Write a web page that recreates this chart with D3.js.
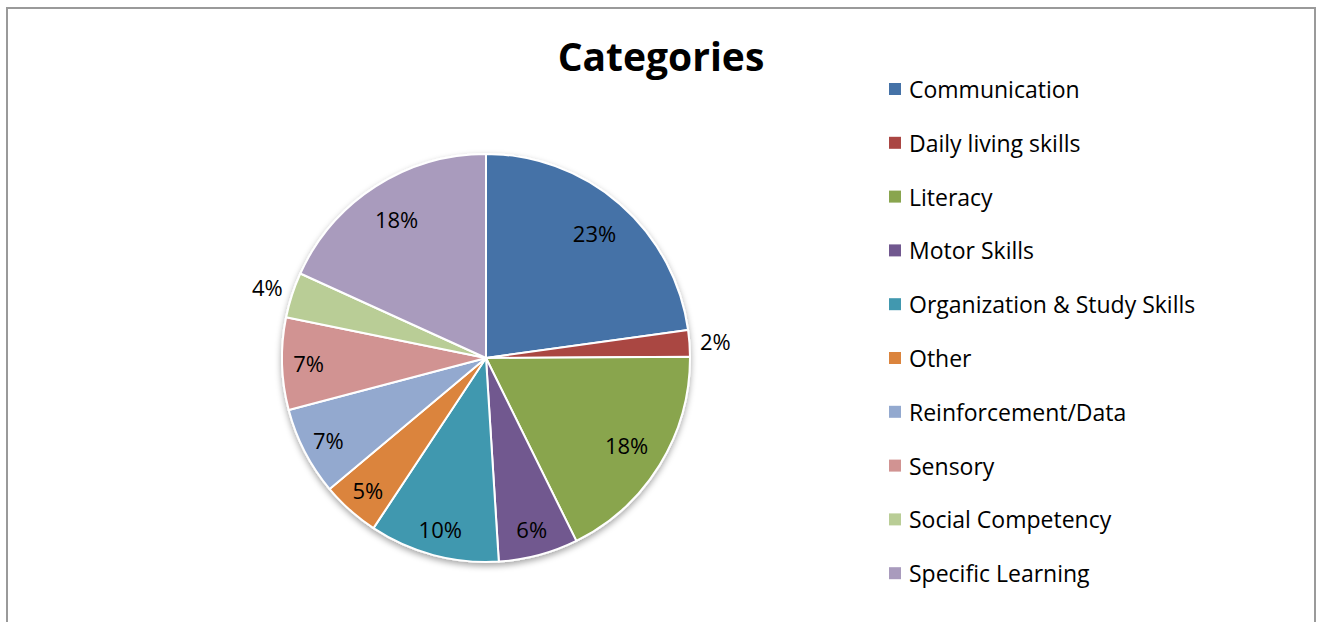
<!DOCTYPE html>
<html>
<head>
<meta charset="utf-8">
<script src="https://cdn.jsdelivr.net/npm/d3@7"></script>
<style>
  html, body { margin: 0; padding: 0; background: #fff; }
  svg { display: block; }
</style>
</head>
<body>
<svg id="chart" width="1318" height="622"></svg>
<script>
// ---- Data ----
const title = "Categories";
const categories = [
  "Communication", "Daily living skills", "Literacy", "Motor Skills",
  "Organization & Study Skills", "Other", "Reinforcement/Data", "Sensory",
  "Social Competency", "Specific Learning"
];
const values = [22.8, 2.1, 17.8, 6.3, 10.3, 4.6, 7.0, 7.3, 3.6, 18.2];
const colors = [
  "#4572A7", "#AA4643", "#89A54E", "#71588F", "#4198AF",
  "#DB843D", "#93A9CF", "#D19392", "#B9CD96", "#A99BBD"
];

// ---- Layout ----
const cx = 486, cy = 358, R = 204;
const FONT = "'Open Sans', 'Noto Sans', sans-serif";

const svg = d3.select("#chart");

// frame
svg.append("rect")
  .attr("x", 7).attr("y", 8).attr("width", 1308).attr("height", 640)
  .attr("fill", "#fff").attr("stroke", "#9a9a9a").attr("stroke-width", 2);

// shadow filter
const defs = svg.append("defs");
const f = defs.append("filter").attr("id", "shadow")
  .attr("x", "-20%").attr("y", "-20%").attr("width", "140%").attr("height", "140%");
f.append("feDropShadow").attr("dx", 0).attr("dy", 3).attr("stdDeviation", 3)
  .attr("flood-color", "#000").attr("flood-opacity", 0.35);

// title
svg.append("text")
  .attr("x", 661).attr("y", 71)
  .attr("text-anchor", "middle")
  .style("font-family", FONT).style("font-weight", "bold").style("font-size", "39px")
  .attr("fill", "#000")
  .text(title);

// pie
const data = categories.map((c, i) => ({ name: c, value: values[i], color: colors[i] }));
const total = d3.sum(values);
const pie = d3.pie().value(d => d.value).sort(null);
const arcs = pie(data);
const arc = d3.arc().innerRadius(0).outerRadius(R);

const g = svg.append("g").attr("transform", `translate(${cx},${cy})`);
g.append("g").attr("filter", "url(#shadow)")
  .selectAll("path").data(arcs).join("path")
  .attr("d", arc)
  .attr("fill", d => d.data.color)
  .attr("stroke", "#fff").attr("stroke-width", 2).attr("stroke-linejoin", "round");

// labels
const pct = d => Math.round(d.data.value / total * 100) + "%";
g.selectAll("text.lbl").data(arcs).join("text")
  .attr("class", "lbl")
  .each(function(d) {
    const share = d.data.value / total;
    let r;
    if (share < 0.04) r = R + 26;
    else if (share > 0.15) r = R * 0.81;
    else r = R * 0.87;
    const a = (d.startAngle + d.endAngle) / 2;
    d3.select(this)
      .attr("x", Math.sin(a) * r)
      .attr("y", -Math.cos(a) * r);
  })
  .attr("text-anchor", "middle")
  .attr("dominant-baseline", "central")
  .style("font-family", FONT).style("font-size", "22px")
  .attr("fill", "#000")
  .text(pct);

// legend
const legend = svg.append("g").attr("transform", "translate(889,0)");
const rowY = i => 89 + i * 53.8;
const items = legend.selectAll("g").data(data).join("g")
  .attr("transform", (d, i) => `translate(0,${rowY(i)})`);
items.append("rect")
  .attr("x", 0).attr("y", -6).attr("width", 12).attr("height", 12)
  .attr("fill", d => d.color);
items.append("text")
  .attr("x", 20).attr("y", 0)
  .attr("dominant-baseline", "central")
  .style("font-family", FONT).style("font-size", "23px")
  .attr("fill", "#000")
  .text(d => d.name);
</script>
</body>
</html>
